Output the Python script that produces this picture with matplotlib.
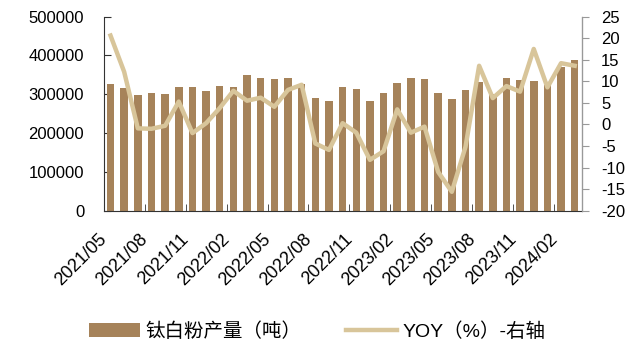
import matplotlib
matplotlib.use("Agg")
import matplotlib.pyplot as plt
import numpy as np

plt.rcParams['font.family'] = ['Liberation Sans', 'Noto Sans CJK SC', 'DejaVu Sans']
plt.rcParams['axes.unicode_minus'] = False

months = ["2021/05", "2021/06", "2021/07", "2021/08", "2021/09", "2021/10", "2021/11",
          "2021/12", "2022/01", "2022/02", "2022/03", "2022/04", "2022/05", "2022/06",
          "2022/07", "2022/08", "2022/09", "2022/10", "2022/11", "2022/12", "2023/01",
          "2023/02", "2023/03", "2023/04", "2023/05", "2023/06", "2023/07", "2023/08",
          "2023/09", "2023/10", "2023/11", "2023/12", "2024/01", "2024/02", "2024/03"]
output = [325800, 315500, 298200, 303400, 300800, 318800, 318800, 308500, 321400, 318000,
          349000, 342000, 338700, 342000, 326500, 290500, 283500, 318800, 313700, 282700,
          303400, 329100, 341200, 338700, 303400, 287900, 311000, 331700, 300000, 341200,
          336000, 333400, 325000, 371000, 387600]
yoy = [20.6, 12.2, -0.9, -1.0, -0.3, 5.3, -2.0, 0.3, 3.8, 7.8,
       5.5, 6.2, 4.1, 8.0, 9.2, -4.4, -5.9, 0.3, -1.9, -8.2,
       -6.2, 3.5, -1.9, -0.5, -11.0, -15.6, -5.2, 13.6, 6.1, 8.9,
       7.6, 17.5, 8.6, 14.2, 13.6]

bar_color = "#a6835a"
line_color = "#d8c59a"

fig = plt.figure(figsize=(6.44, 3.45), dpi=100)
ax = fig.add_axes([0.161, 0.389, 0.742, 0.563])
ax2 = ax.twinx()

x = np.arange(len(months))
b = ax.bar(x, output, width=0.55, color=bar_color, zorder=2)
l, = ax2.plot(x, yoy, color=line_color, lw=3.2, zorder=3)

ax.set_xlim(-0.5, len(months) - 0.5)
ax.set_ylim(0, 500000)
ax.set_yticks(np.arange(0, 500001, 100000))
ax2.set_ylim(-20, 25)
ax2.set_yticks(np.arange(-20, 26, 5))

# labels every 3 months, tick marks on category boundaries
ax.set_xticks(x[::3])
ax.set_xticklabels([months[i] for i in x[::3]], rotation=45, ha='right')
ax.set_xticks(np.arange(2.5, len(months), 3), minor=True)
ax.tick_params(axis='x', which='major', length=0, pad=14, labelsize=13)
ax.tick_params(axis='x', which='minor', direction='in', length=5, color='#333333')
ax.tick_params(axis='y', direction='in', length=5, pad=14, labelsize=12, color='#333333')
ax2.tick_params(axis='y', direction='out', length=5, pad=9, labelsize=12, color='#999999')

for a in (ax, ax2):
    a.spines['top'].set_visible(False)
ax.spines['left'].set_color('#333333')
ax.spines['bottom'].set_color('#333333')
ax2.spines['right'].set_color('#999999')
ax2.spines['left'].set_visible(False)
ax2.spines['bottom'].set_visible(False)

fig.legend([b, l], ["钛白粉产量（吨）", "YOY（%）-右轴"], loc='center', ncol=2,
           bbox_to_anchor=(0.493, 0.04), frameon=False,
           handlelength=2.6, handletextpad=0.3, columnspacing=2.3,
           prop={'family': ['Liberation Sans', 'Noto Sans CJK SC'], 'size': 14})

fig.savefig("out.png", dpi=100)
